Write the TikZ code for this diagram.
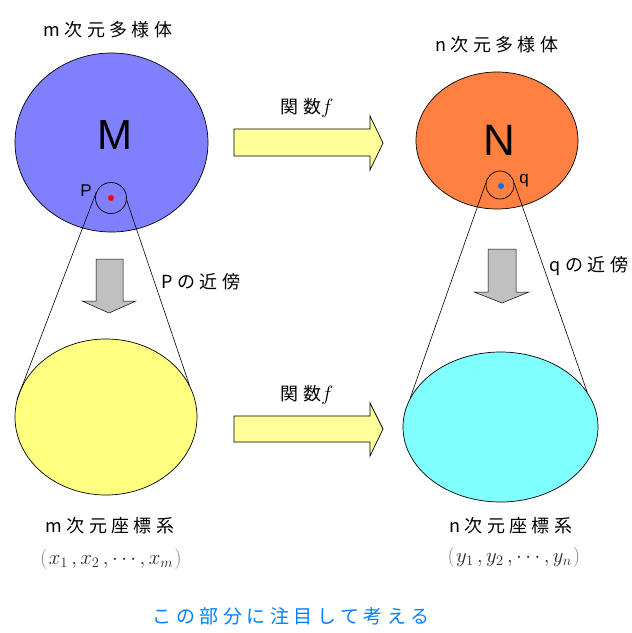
\documentclass[tikz,border=0pt]{standalone}
\usepackage{fontspec}
\setmainfont{Liberation Sans}
\newfontfamily\jpfont[LetterSpace=24]{Noto Sans CJK JP}
\usetikzlibrary{shapes.geometric}
\definecolor{manifoldM}{RGB}{128,128,255}
\definecolor{manifoldN}{RGB}{255,128,64}
\definecolor{chartX}{RGB}{255,255,128}
\definecolor{chartY}{RGB}{128,255,255}
\definecolor{arrowYellow}{RGB}{255,255,153}
\definecolor{arrowGray}{RGB}{192,192,192}
\definecolor{noteBlue}{RGB}{0,128,255}
\definecolor{dotBlue}{RGB}{0,112,240}

\begin{document}
\begin{tikzpicture}[
    x=1pt, y=-1pt,
    ovalStyle/.style={ellipse, draw=black, line width=0.7pt, inner sep=0pt},
    nbhdStyle/.style={circle, draw=black, line width=0.7pt, inner sep=0pt},
    dotStyle/.style={circle, inner sep=0pt, minimum size=6pt},
    labelStyle/.style={font=\jpfont\fontsize{18}{18}\selectfont, inner sep=0pt},
    coneLine/.style={draw=black, line width=0.6pt},
    fatArrow/.style={draw=black, line width=0.7pt, fill=arrowYellow},
    downArrow/.style={draw=black, line width=0.5pt, fill=arrowGray}
]
    \useasboundingbox (0,0) rectangle (632,633);

    % Manifolds and coordinate charts
    \node[ovalStyle, fill=manifoldM, minimum width=193pt, minimum height=179pt] (ellM) at (111.5,142.5) {};
    \node[ovalStyle, fill=manifoldN, minimum width=162pt, minimum height=137pt] (ellN) at (497,140.5) {};
    \node[ovalStyle, fill=chartX, minimum width=182pt, minimum height=156pt] (ellX) at (106,417) {};
    \node[ovalStyle, fill=chartY, minimum width=195pt, minimum height=150pt] (ellY) at (500.5,427) {};

    \node[font=\fontsize{42}{42}\selectfont, inner sep=0pt] (lblM) at (115,135) {M};
    \node[font=\fontsize{44}{44}\selectfont, inner sep=0pt] (lblN) at (499,140) {N};

    % Neighbourhoods of P and q
    \node[nbhdStyle, minimum size=31pt] (nbP) at (111,198) {};
    \node[nbhdStyle, minimum size=28pt] (nbQ) at (500,185) {};
    \node[dotStyle, fill=red] (dotP) at (111,198) {};
    \node[dotStyle, fill=dotBlue] (dotQ) at (501,186) {};
    \node[font=\fontsize{17}{17}\selectfont, inner sep=0pt] (lblP) at (86,191) {P};
    \node[font=\fontsize{17}{17}\selectfont, inner sep=0pt] (lblQ) at (524,181) {q};

    % Cone lines
    \draw[coneLine] (nbP.160) -- (ellX.169);
    \draw[coneLine] (nbP.352) -- (ellX.21);
    \draw[coneLine] (nbQ.172) -- (ellY.162);
    \draw[coneLine] (nbQ.8) -- (ellY.22);

    % Mapping arrows
    \draw[fatArrow] (234,129) -- (370,129) -- (370,116) -- (383,143) -- (370,170) -- (370,156) -- (234,156) -- cycle;
    \draw[fatArrow] (234,416) -- (370,416) -- (370,403) -- (383,429) -- (370,456) -- (370,442) -- (234,442) -- cycle;

    % Zoom-in arrows
    \draw[downArrow] (96,259) -- (123,259) -- (123,301) -- (136,301) -- (109,313) -- (82,301) -- (96,301) -- cycle;
    \draw[downArrow] (488,249) -- (516,249) -- (516,292) -- (529,292) -- (502,303) -- (474,292) -- (488,292) -- cycle;

    % Labels
    \node[labelStyle] (tM) at (108,30) {m次元多様体};
    \node[labelStyle] (tN) at (497,45) {n次元多様体};
    \node[labelStyle] (tP) at (201,282) {Pの近傍};
    \node[labelStyle] (tQ) at (589,266) {qの近傍};
    \node[labelStyle] (fTop) at (307,108) {関数{\fontsize{22}{22}\selectfont$f$}};
    \node[labelStyle] (fBot) at (307,395) {関数{\fontsize{22}{22}\selectfont$f$}};
    \node[labelStyle] (tX) at (110,526) {m次元座標系};
    \node[labelStyle] (tY) at (511,526) {n次元座標系};
    \node[font=\fontsize{21}{21}\selectfont, text=black!85, inner sep=0pt] (crdX) at (111,559)
        {$\textcolor{gray}{\left(\vphantom{x_1}\right.}x_1\,,x_2\,,\cdots,x_m\textcolor{gray}{\left.\vphantom{x_1}\right)}$};
    \node[font=\fontsize{21}{21}\selectfont, text=black!85, inner sep=0pt] (crdY) at (514,557)
        {$\textcolor{gray}{\left(\vphantom{y_1}\right.}y_1\,,y_2\,,\cdots,y_n\textcolor{gray}{\left.\vphantom{y_1}\right)}$};
    \node[labelStyle, font=\jpfont\fontsize{19}{19}\selectfont, text=noteBlue] (note) at (291,616) {この部分に注目して考える};
\end{tikzpicture}
\end{document}
